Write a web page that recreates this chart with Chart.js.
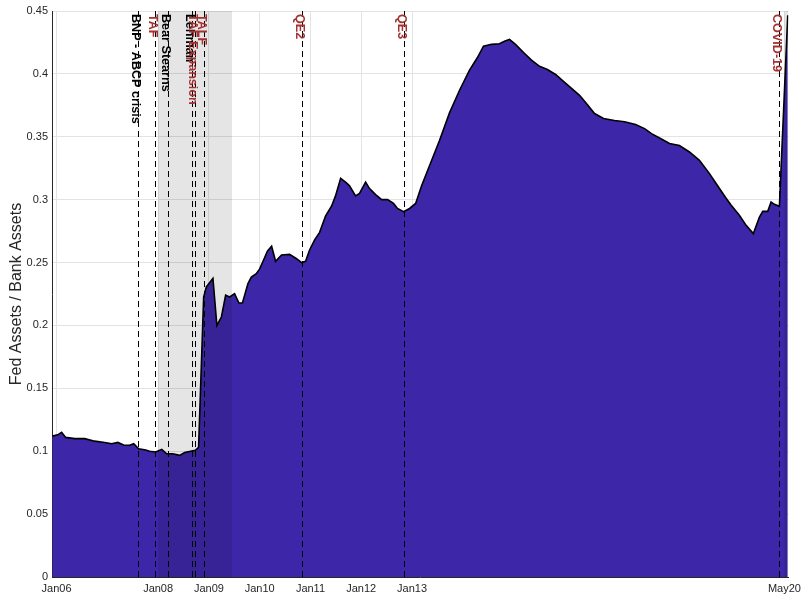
<!DOCTYPE html>
<html>
<head>
<meta charset="utf-8">
<script src="https://cdn.jsdelivr.net/npm/chart.js@4"></script>
<style>
  body { margin: 0; background: #fff; }
  canvas { display: block; }
</style>
</head>
<body>
<canvas id="chart" width="806" height="596"></canvas>
<script>
// ── Data ──
const dates = [
  '2005-12-01', '2006-01-09', '2006-02-07', '2006-03-06', '2006-05-10', '2006-07-21', '2006-10-01', '2006-12-12',
  '2007-02-02', '2007-03-15', '2007-04-27', '2007-06-09', '2007-07-08', '2007-08-13', '2007-10-03', '2007-11-01',
  '2007-12-14', '2008-01-27', '2008-03-02', '2008-04-14', '2008-06-04', '2008-07-09', '2008-09-25', '2008-10-18',
  '2008-11-24', '2008-12-13', '2009-01-30', '2009-02-28', '2009-03-30', '2009-04-30', '2009-05-28', '2009-07-03',
  '2009-08-04', '2009-08-29', '2009-10-08', '2009-11-02', '2009-12-07', '2010-01-01', '2010-01-29', '2010-02-26',
  '2010-03-26', '2010-04-24', '2010-06-06', '2010-08-03', '2010-09-23', '2010-10-28', '2010-11-27', '2010-12-25',
  '2011-01-31', '2011-03-06', '2011-04-18', '2011-06-01', '2011-06-29', '2011-08-05', '2011-09-10', '2011-10-08',
  '2011-11-21', '2011-12-19', '2012-02-02', '2012-02-29', '2012-04-13', '2012-05-26', '2012-07-08', '2012-08-20',
  '2012-09-18', '2012-11-01', '2012-12-14', '2013-01-27', '2013-03-09', '2013-05-05', '2013-07-16', '2013-09-27',
  '2013-12-08', '2014-02-19', '2014-04-15', '2014-05-28', '2014-07-25', '2014-09-21', '2014-10-27', '2014-12-02',
  '2015-01-15', '2015-03-12', '2015-05-08', '2015-07-05', '2015-09-01', '2015-10-29', '2015-12-25', '2016-02-22',
  '2016-04-19', '2016-06-15', '2016-08-05', '2016-10-09', '2016-12-27', '2017-03-08', '2017-05-26', '2017-07-30',
  '2017-09-19', '2017-11-16', '2018-01-27', '2018-04-07', '2018-06-18', '2018-08-29', '2018-11-10', '2018-12-27',
  '2019-03-09', '2019-04-14', '2019-06-12', '2019-07-30', '2019-09-21', '2019-11-04', '2019-11-28', '2020-01-03',
  '2020-01-27', '2020-02-20', '2020-03-26', '2020-05-25',
];
const ratio = [
  0.112, 0.113, 0.115, 0.111, 0.110, 0.110, 0.108, 0.107,
  0.106, 0.107, 0.105, 0.1047, 0.106, 0.102, 0.101, 0.100,
  0.0994, 0.1015, 0.098, 0.098, 0.0967, 0.099, 0.1007, 0.103,
  0.2226, 0.2306, 0.2375, 0.200, 0.2067, 0.224, 0.2226, 0.2253,
  0.2178, 0.2178, 0.2333, 0.2385, 0.2412, 0.245, 0.252, 0.259,
  0.263, 0.251, 0.256, 0.2565, 0.253, 0.250, 0.251, 0.260,
  0.268, 0.274, 0.287, 0.295, 0.303, 0.317, 0.314, 0.311,
  0.303, 0.305, 0.314, 0.309, 0.304, 0.300, 0.300, 0.297,
  0.293, 0.2905, 0.293, 0.297, 0.311, 0.327, 0.347, 0.369,
  0.387, 0.403, 0.413, 0.422, 0.4235, 0.424, 0.426, 0.4275,
  0.4235, 0.417, 0.411, 0.406, 0.4035, 0.3995, 0.394, 0.3885,
  0.383, 0.3755, 0.3685, 0.3645, 0.363, 0.362, 0.3597, 0.3565,
  0.3525, 0.349, 0.3447, 0.343, 0.3379, 0.3313, 0.3207, 0.3128,
  0.3009, 0.2955, 0.2876, 0.2796, 0.273, 0.2862, 0.2907, 0.2907,
  0.2981, 0.2963, 0.2947, 0.4466,
];

const tickDates = ['2006-01-01', '2008-01-01', '2009-01-01', '2010-01-01', '2011-01-01', '2012-01-01', '2013-01-01', '2020-05-01'];
const tickLabels = ['Jan06', 'Jan08', 'Jan09', 'Jan10', 'Jan11', 'Jan12', 'Jan13', 'May20'];

// events: 'shock' = black label, 'policy' = red label
const eventDates = ['2007-08-09', '2007-12-12', '2008-03-14', '2008-09-04', '2008-09-22', '2008-11-25', '2010-11-03', '2012-11-01', '2020-03-23'];
const eventLabels = ['BNP - ABCP crisis', 'TAF', 'Bear Stearns', 'Lehman', 'TAF Expansion', 'TALF', 'QE2', 'QE3', 'COVID-19'];
const eventKinds = ['shock', 'policy', 'shock', 'shock', 'policy', 'policy', 'policy', 'policy', 'policy'];

const recessionStarts = ['2008-01-01', '2020-05-01'];
const recessionEnds = ['2009-06-15', '2020-05-30'];

const xStart = '2005-11-29';
const xEnd = '2020-05-30';

// ── Helpers ──
function toMonths(s) {
  const [y, m, d] = s.split('-').map(Number);
  return (y - 2006) * 12 + (m - 1) + ((d || 1) - 1) / 30.4;
}

const FONT = "'Liberation Sans', Arial, Helvetica, sans-serif";
const TEXT = '#262626';
const RED = '#a33232';

const tickPos = tickDates.map(toMonths);

const overlay = {
  id: 'overlay',
  afterDatasetsDraw(chart) {
    const { ctx, chartArea: a, scales: { x } } = chart;
    ctx.save();
    ctx.beginPath();
    ctx.rect(a.left, a.top, a.right - a.left, a.bottom - a.top);
    ctx.clip();

    // recession shading
    ctx.fillStyle = 'rgba(0,0,0,0.1)';
    for (let i = 0; i < recessionStarts.length; i++) {
      const x0 = x.getPixelForValue(toMonths(recessionStarts[i]));
      const x1 = x.getPixelForValue(toMonths(recessionEnds[i]));
      ctx.fillRect(x0, a.top, x1 - x0, a.bottom - a.top);
    }

    // event lines
    ctx.strokeStyle = '#000';
    ctx.lineWidth = 1;
    ctx.setLineDash([6, 4]);
    for (const d of eventDates) {
      const px = Math.round(x.getPixelForValue(toMonths(d))) + 0.5;
      ctx.beginPath();
      ctx.moveTo(px, a.top);
      ctx.lineTo(px, a.bottom);
      ctx.stroke();
    }
    ctx.setLineDash([]);
    ctx.restore();

    // event labels, rotated to read top-down
    ctx.save();
    ctx.font = `bold 12.6px ${FONT}`;
    ctx.textAlign = 'left';
    ctx.textBaseline = 'middle';
    eventDates.forEach((d, i) => {
      const px = x.getPixelForValue(toMonths(d));
      ctx.save();
      ctx.translate(px, a.top);
      ctx.rotate(Math.PI / 2);
      ctx.fillStyle = eventKinds[i] === 'shock' ? '#000' : RED;
      ctx.fillText(eventLabels[i], 3, 2.5);
      ctx.restore();
    });
    ctx.restore();
  },
};

new Chart(document.getElementById('chart'), {
  type: 'line',
  data: {
    datasets: [{
      data: dates.map((d, i) => ({ x: toMonths(d), y: ratio[i] })),
      borderColor: '#000',
      borderWidth: 1.6,
      backgroundColor: '#3e26a8',
      fill: 'origin',
      pointRadius: 0,
      tension: 0,
    }],
  },
  options: {
    responsive: false,
    animation: false,
    layout: { padding: { top: 11, right: 17, left: 0, bottom: 0 } },
    plugins: { legend: { display: false }, tooltip: { enabled: false } },
    scales: {
      x: {
        type: 'linear',
        min: toMonths(xStart),
        max: toMonths(xEnd),
        afterBuildTicks: s => { s.ticks = tickPos.map(v => ({ value: v })); },
        afterFit: s => { s.height = 19; },
        ticks: {
          autoSkip: false,
          maxRotation: 0,
          padding: 5,
          color: TEXT,
          font: { family: FONT, size: 11 },
          callback: v => tickLabels[tickPos.indexOf(v)] ?? '',
        },
        grid: { color: '#e3e3e3', drawTicks: false },
        border: { color: '#262626', width: 1 },
      },
      y: {
        min: 0,
        max: 0.45,
        afterFit: s => { s.width = 52; },
        ticks: {
          stepSize: 0.05,
          padding: 4,
          color: TEXT,
          font: { family: FONT, size: 11 },
          callback: v => String(parseFloat(v.toFixed(2))),
        },
        grid: { color: '#e3e3e3', drawTicks: false },
        border: { color: '#262626', width: 1 },
        title: {
          display: true,
          text: 'Fed Assets / Bank Assets',
          color: TEXT,
          font: { family: FONT, size: 16 },
          padding: { top: 7, bottom: 0 },
        },
      },
    },
  },
  plugins: [overlay],
});
</script>
</body>
</html>
